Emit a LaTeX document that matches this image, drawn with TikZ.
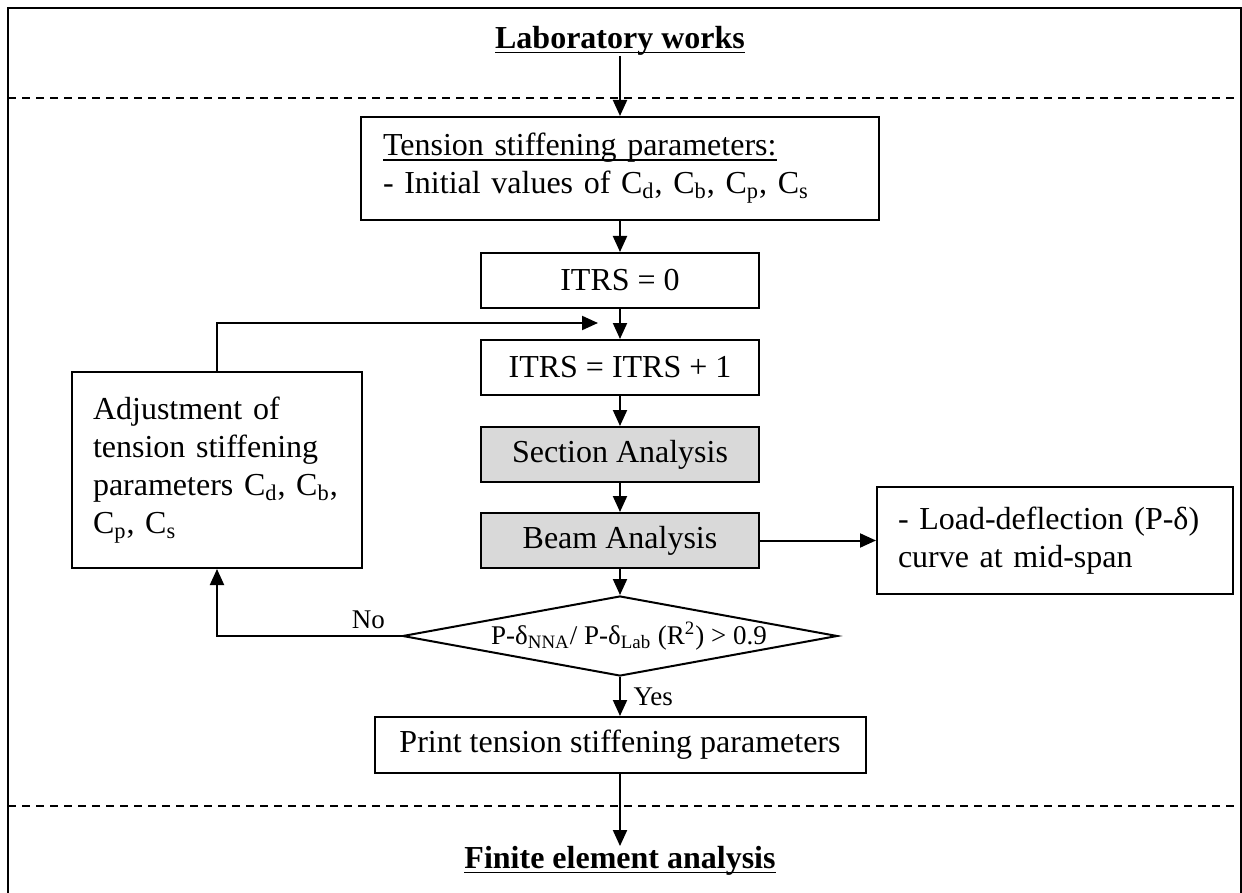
\documentclass[tikz,border=0pt]{standalone}
\usepackage{fontspec}
\setmainfont{Liberation Serif}
\usetikzlibrary{arrows.meta,shapes.geometric}
\newcommand\uln[1]{\setbox0\hbox{#1}\rlap{\rule[-2.4pt]{\wd0}{0.8pt}}\box0}

\begin{document}
\begin{tikzpicture}[x=0.5pt,y=-0.5pt,font=\fontsize{16}{19}\selectfont]
	 \tikzstyle{block}=[draw,line width=1pt,rectangle,inner sep=0pt]
	 \tikzstyle{gray block}=[block,fill=gray!30]
	 \tikzstyle{text block}=[block,align=left]
	 \tikzstyle{heading}=[inner sep=0pt,font=\fontsize{16}{19}\selectfont\bfseries]
	 \tikzstyle{small}=[font=\fontsize{13.5}{16}\selectfont]
	 \tikzstyle{flow}=[draw,line width=1pt,-{Triangle[length=8pt,width=7pt]}]
	 \tikzstyle{border}=[draw,line width=1pt]
	 \tikzstyle{divider}=[draw,line width=0.8pt,dash pattern=on 4pt off 3pt]

	 \useasboundingbox (0,0) rectangle (1242,893);

	 \node[heading] (lab) at (620,41) {\uln{Laboratory works}};
	 \node[text block,minimum width=259pt,minimum height=51.5pt,text width=237pt] (init) at (620,168.5)
		{\uln{Tension stiffening parameters:}\\- Initial values of C\textsubscript{d}, C\textsubscript{b}, C\textsubscript{p}, C\textsubscript{s}};
	 \node[block,minimum width=139pt,minimum height=27.5pt] (itrs0) at (620,280.5) {ITRS = 0};
	 \node[block,minimum width=139pt,minimum height=27.5pt] (itrs1) at (620,367.5) {ITRS = ITRS + 1};
	 \node[gray block,minimum width=139pt,minimum height=27.5pt] (sect) at (620,454.5) {Section Analysis};
	 \node[gray block,minimum width=139pt,minimum height=27.5pt] (beam) at (620,540.5) {Beam Analysis};
	 \node[draw,line width=1pt,diamond,minimum width=217.5pt,minimum height=40pt,inner sep=0pt,small] (check) at (620,636)
		{\makebox[0pt]{\hspace*{9pt}P-δ\textsubscript{NNA}/ P-δ\textsubscript{Lab} (R\textsuperscript{2}) > 0.9}};
	 \node[block,minimum width=245.5pt,minimum height=28pt] (print) at (620,745) {Print tension stiffening parameters};
	 \node[heading] (fea) at (620,861) {\uln{Finite element analysis}};
	 \node[text block,minimum width=178pt,minimum height=53.5pt,text width=157pt] (load) at (1055,540.5)
		{- Load-deflection (P-δ)\\curve at mid-span};
	 \node[text block,minimum width=145pt,minimum height=98pt,text width=124pt] (adjust) at (217,470)
		{Adjustment of\\tension stiffening\\parameters C\textsubscript{d}, C\textsubscript{b},\\C\textsubscript{p}, C\textsubscript{s}};
	 \coordinate (merge) at (598,323);

	 % frame and zone dividers
	 \draw[border] (8,893) -- (8,8) -- (1241,8) -- (1241,893);
	 \draw[divider] (8,98) -- (1241,98);
	 \draw[divider] (8,806) -- (1241,806);

	 \draw[flow] (lab) -- (init);
	 \draw[flow] (init) -- (itrs0);
	 \draw[flow] (itrs0) -- (itrs1);
	 \draw[flow] (itrs1) -- (sect);
	 \draw[flow] (sect) -- (beam);
	 \draw[flow] (beam) -- (check);
	 \draw[flow] (beam) -- (load);
	 \draw[flow] (check) -- node[right=3pt,small] {Yes} (print);
	 \draw[flow] (print) -- (fea);
	 \draw[flow] (check.west) -| node[above,pos=0.09,small] {No} (adjust.south);
	 \draw[flow] (adjust.north) |- (merge);
\end{tikzpicture}
\end{document}
